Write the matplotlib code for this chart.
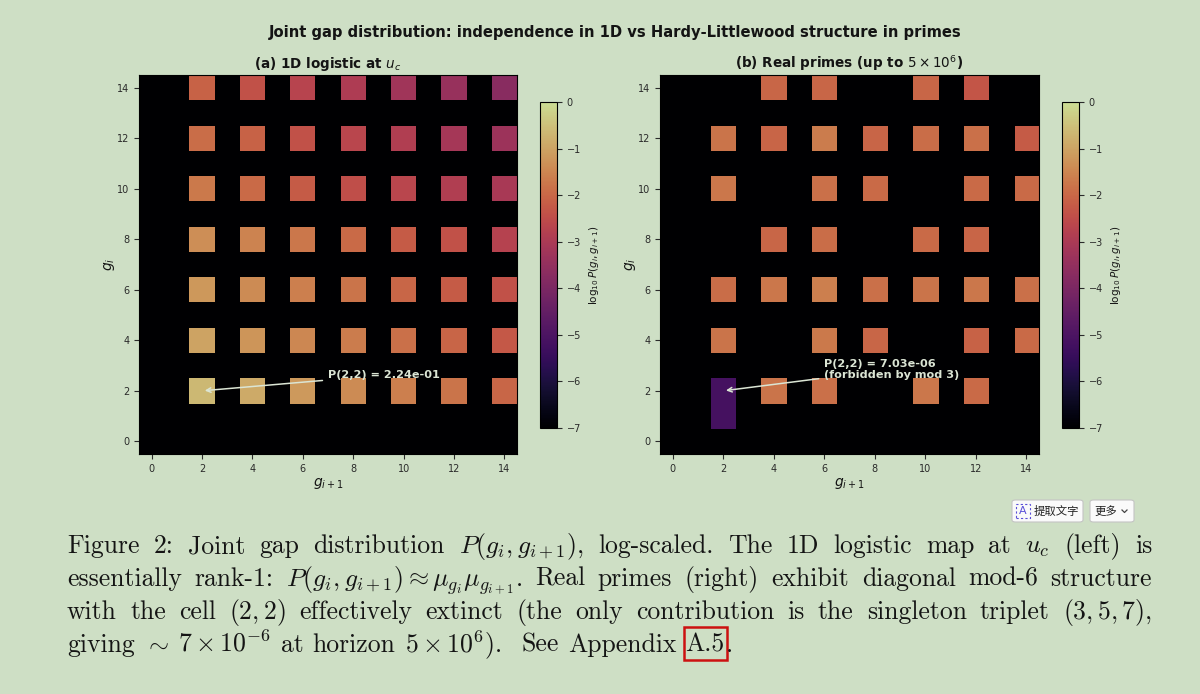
import numpy as np
import matplotlib
matplotlib.use("Agg")
import matplotlib.pyplot as plt
from matplotlib.colors import ListedColormap
from matplotlib.lines import Line2D
from matplotlib.patches import FancyBboxPatch, Rectangle

W, H = 1200, 694
BG = "#cedfc5"
TINT = np.array([0xce, 0xdf, 0xc5]) / 255.0
LIGHT = "#dbe5d4"
INK = "#141414"

# gap values shown on both axes
gaps = [2, 4, 6, 8, 10, 12, 14]

# log10 P(g_i, g_{i+1}); rows g_i = 2..14, columns g_{i+1} = 2..14
logistic_log10 = [
    [-0.65, -0.90, -1.15, -1.40, -1.60, -1.80, -2.00],
    [-1.00, -1.25, -1.45, -1.65, -1.85, -2.05, -2.25],
    [-1.20, -1.40, -1.60, -1.80, -2.00, -2.20, -2.40],
    [-1.35, -1.55, -1.75, -1.95, -2.20, -2.40, -2.75],
    [-1.70, -1.95, -2.20, -2.45, -2.65, -2.85, -3.05],
    [-1.90, -2.10, -2.40, -2.65, -2.85, -3.10, -3.30],
    [-2.10, -2.40, -2.70, -2.90, -3.20, -3.40, -3.70],
]
logistic_p22 = 2.24e-01

N = None  # never observed
primes_log10 = [
    [-5.15, -1.80, -1.85, N, -1.75, -1.95, N],
    [-1.80, N, -1.70, -2.00, N, -2.10, -1.95],
    [-1.90, -1.75, -1.60, -1.85, -1.80, -1.75, -1.85],
    [N, -2.00, -1.90, N, -1.95, -2.05, N],
    [-1.75, N, -1.85, -1.95, N, -1.95, -1.95],
    [-1.80, -2.05, -1.65, -2.05, -1.90, -1.85, -2.20],
    [N, -2.00, -2.00, N, -2.00, -2.30, N],
]
primes_p22 = 7.03e-06
# the single (1, 2) pair coming from 2, 3, 5
primes_gap1 = (1, 2, -5.15)

caption_lines = [
    r"Figure 2:  Joint gap distribution $P(g_i,g_{i+1})$, log-scaled.  The 1D logistic map at $u_c$ (left) is",
    r"essentially rank-1: $P(g_i,g_{i+1})\approx\mu_{g_i}\mu_{g_{i+1}}$. Real primes (right) exhibit diagonal mod-6 structure",
    r"with the cell $(2,2)$ effectively extinct (the only contribution is the singleton triplet $(3,5,7)$,",
    r"giving $\sim$ $7\times10^{-6}$ at horizon $5\times10^6$). See Appendix",
]


def build_grid(vals, extra=None):
    grid = np.full((15, 15), -8.0)
    for r, gi in enumerate(gaps):
        for c, gj in enumerate(gaps):
            if vals[r][c] is not None:
                grid[gi, gj] = vals[r][c]
    if extra is not None:
        grid[extra[0], extra[1]] = extra[2]
    return grid


def box(left, top, width, height):
    return [left / W, 1 - (top + height) / H, width / W, height / H]


# magma, seen through the same green page tint as the screenshot
colors = plt.get_cmap("magma")(np.linspace(0, 1, 256))
colors[:, :3] *= TINT
cmap = ListedColormap(colors)

fig = plt.figure(figsize=(12, 6.94), dpi=100, facecolor=BG)
ax_a = fig.add_axes(box(139, 75, 378, 379))
cax_a = fig.add_axes(box(540, 102, 17, 326))
ax_b = fig.add_axes(box(660, 75, 379, 379))
cax_b = fig.add_axes(box(1062, 102, 17, 326))

fig.text(0.5125, 1 - 33 / H, "Joint gap distribution: independence in 1D vs Hardy-Littlewood structure in primes",
         ha="center", va="center", fontsize=10.6, fontweight="bold", color=INK)


def panel(ax, cax, grid, title, note, xytext):
    im = ax.imshow(grid, origin="lower", cmap=cmap, vmin=-7, vmax=0,
                   aspect="auto", interpolation="nearest")
    ax.set_xticks(range(0, 15, 2))
    ax.set_yticks(range(0, 15, 2))
    ax.tick_params(labelsize=7, colors="#2a2a2a", length=3.5, width=0.8)
    ax.set_xlabel(r"$g_{i+1}$", fontsize=10, color=INK, labelpad=1.5)
    ax.set_ylabel(r"$g_i$", fontsize=10, color=INK, labelpad=0)
    ax.set_title(title, fontsize=9.75, fontweight="bold", color=INK, pad=5)
    ax.annotate(note, xy=(2, 2), xytext=xytext, color=LIGHT, fontsize=8.1,
                fontweight="bold",
                arrowprops=dict(arrowstyle="->", color=LIGHT, lw=1.1))
    cb = fig.colorbar(im, cax=cax, ticks=range(-7, 1))
    cb.set_label(r"$\log_{10}P(g_i, g_{i+1})$", fontsize=7.5, color=INK)
    cb.ax.tick_params(labelsize=7, colors="#2a2a2a", length=3.5, width=0.8)
    cb.outline.set_linewidth(0.8)


panel(ax_a, cax_a, build_grid(logistic_log10), r"(a) 1D logistic at $u_c$",
      f"P(2,2) = {logistic_p22:.2e}", (7.0, 2.5))
panel(ax_b, cax_b, build_grid(primes_log10, primes_gap1),
      r"(b) Real primes (up to $5\times10^6$)",
      f"P(2,2) = {primes_p22:.2e}\n(forbidden by mod 3)", (6.0, 2.5))

# caption, justified like the LaTeX page
renderer = fig.canvas.get_renderer()
CAP_FS = 18.5
LEFT, RIGHT = 67, 1152
baselines = [553, 586, 619, 652]


def caption_words(words, base, justify):
    texts = [fig.text(0, 1 - base / H, w, fontsize=CAP_FS, family="cmr10",
                      math_fontfamily="cm", ha="left", va="baseline", color=INK)
             for w in words]
    widths = [t.get_window_extent(renderer).width for t in texts]
    space = CAP_FS * 100 / 72 * 0.36
    if justify:
        gaps_px = [(RIGHT - LEFT - sum(widths)) / (len(words) - 1)] * len(words)
    else:
        # wider sentence space after a full stop, as TeX does
        gaps_px = [space * 2.2 if w.endswith(".") else space for w in words]
    x = LEFT
    for t, w, g in zip(texts, widths, gaps_px):
        t.set_x(x / W)
        x += w + g
    return texts, x - g + space


for i, line in enumerate(caption_lines):
    words = [w for w in line.split(" ") if w]
    last = i == len(caption_lines) - 1
    texts, x_end = caption_words(words, baselines[i], not last)

# "A.5" link with its red frame, then the closing period
ref = fig.text(x_end / W, 1 - baselines[3] / H, "A.5", fontsize=CAP_FS, family="cmr10",
               ha="left", va="baseline", color=INK)
bb = ref.get_window_extent(renderer)
fig.text((bb.x1 + 1) / W, 1 - baselines[3] / H, ".", fontsize=CAP_FS, family="cmr10",
         ha="left", va="baseline", color=INK)
fig.patches.append(Rectangle(((bb.x0 - 2) / W, (bb.y0 - 3) / H),
                             (bb.width + 4) / W, (bb.height + 9) / H,
                             transform=fig.transFigure, fill=False,
                             edgecolor="#cc1111", linewidth=1.8))

# viewer's floating buttons
for (x0, x1) in [(1012, 1083), (1090, 1134)]:
    fig.patches.append(FancyBboxPatch((x0 / W, 1 - 522 / H), (x1 - x0) / W, 22 / H,
                                      boxstyle="round,pad=0,rounding_size=0.003",
                                      transform=fig.transFigure,
                                      facecolor="#fafafa", edgecolor="#c4c4c4", linewidth=0.8))
fig.text(1023 / W, 1 - 511 / H, "A", ha="center", va="center", fontsize=8,
         color="#5a4fd8")
fig.patches.append(Rectangle((1016 / W, 1 - 518 / H), 14 / W, 14 / H, transform=fig.transFigure,
                             fill=False, edgecolor="#5a4fd8", linewidth=0.8, linestyle=(0, (2, 2))))
fig.text(1034 / W, 1 - 511 / H, "提取文字", ha="left", va="center", fontsize=8.2,
         family=["Noto Sans CJK SC", "DejaVu Sans"], color="#222222")
fig.text(1094 / W, 1 - 511 / H, "更多", ha="left", va="center", fontsize=8.2,
         family=["Noto Sans CJK SC", "DejaVu Sans"], color="#222222")
fig.lines.append(Line2D([1122 / W, 1124.5 / W, 1127 / W],
                        [1 - 510 / H, 1 - 512.5 / H, 1 - 510 / H],
                        transform=fig.transFigure, color="#444444", linewidth=0.9))

fig.savefig("out.png", dpi=100, facecolor=BG)
